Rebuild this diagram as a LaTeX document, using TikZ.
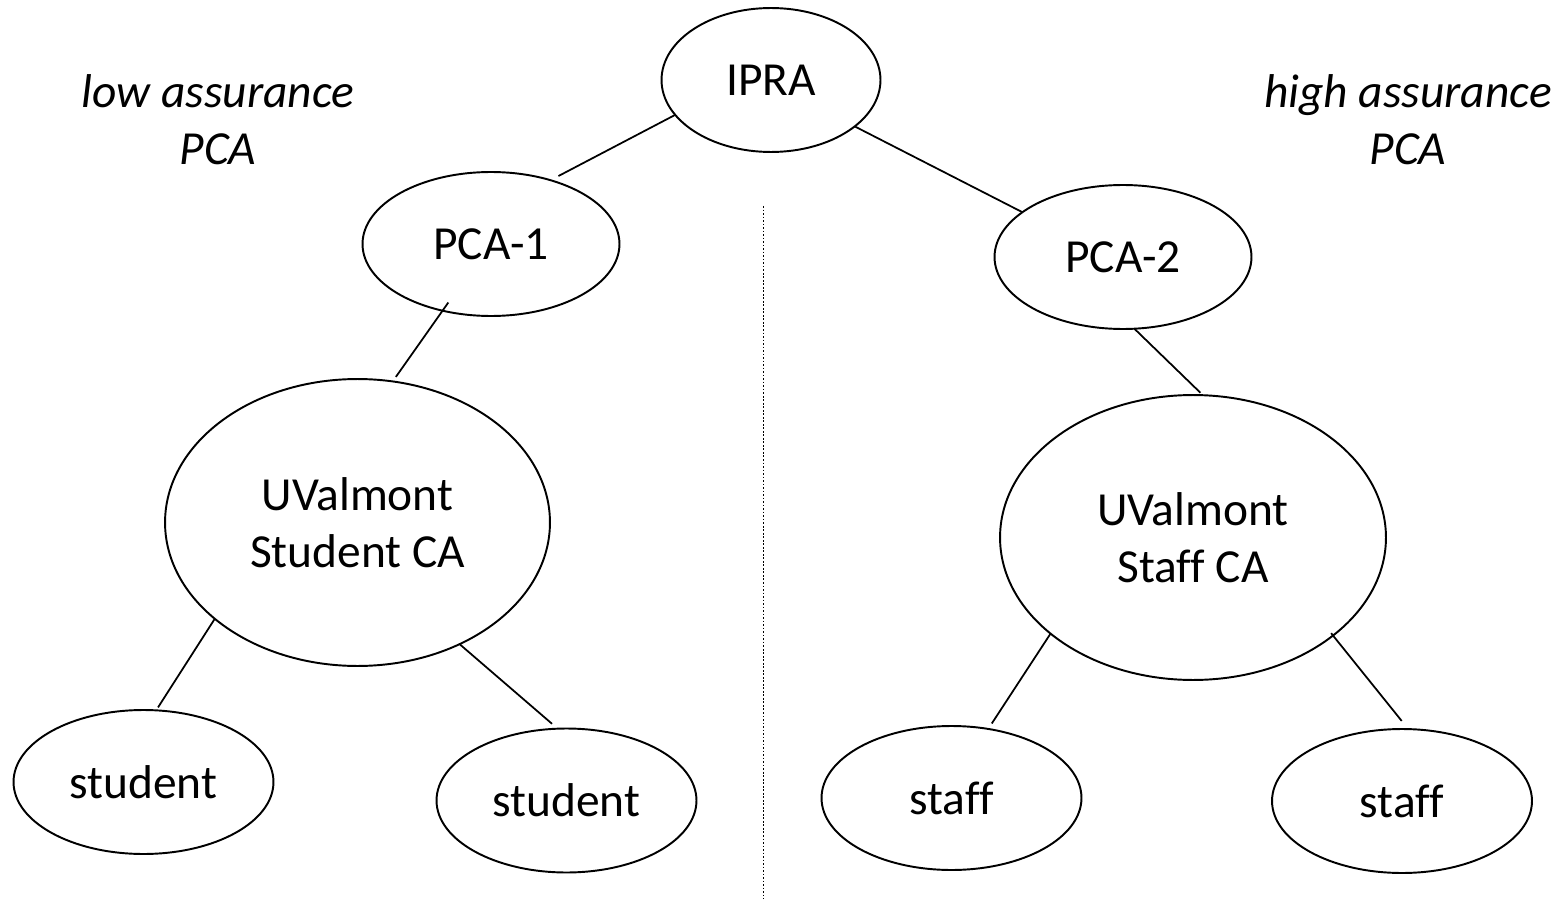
\documentclass[tikz,border=0pt]{standalone}
\usepackage{fontspec}
\setmainfont{Carlito}[Ligatures=NoCommon]
\usetikzlibrary{shapes.geometric}

\tikzstyle{ca} = [ellipse,draw,line width=1.1pt,inner sep=0pt,outer sep=0pt,align=center,font=\fontsize{27}{32.5}\selectfont]
\tikzstyle{leaf} = [ca,minimum width=5.2cm,minimum height=2.88cm]
\tikzstyle{note} = [align=center,font=\fontsize{27}{32.5}\selectfont\itshape]
\tikzstyle{link} = [line width=1pt]
\tikzstyle{divider} = [line width=1pt,densely dotted]

\begin{document}
\begin{tikzpicture}[x=0.02cm,y=-0.02cm]
	\useasboundingbox (0,0) rectangle (1562,902);

	\node[ca,minimum width=4.38cm,minimum height=2.88cm] (ipra) at (771,80) {IPRA};
	\node[ca,minimum width=5.14cm,minimum height=2.88cm] (pca1) at (491,244) {PCA-1};
	\node[ca,minimum width=5.14cm,minimum height=2.88cm] (pca2) at (1123,257) {PCA-2};
	\node[ca,minimum width=7.7cm,minimum height=5.74cm] (ca1) at (357.5,522.5) {UValmont\\Student CA};
	\node[ca,minimum width=7.72cm,minimum height=5.7cm] (ca2) at (1193,537.5) {UValmont\\Staff CA};
	\node[leaf] (s1) at (143.5,782) {student};
	\node[leaf] (s2) at (566.5,800.5) {student};
	\node[leaf] (f1) at (951.5,798) {staff};
	\node[leaf] (f2) at (1402,801) {staff};

	\node[note] (low) at (218,120) {low assurance\\PCA};
	\node[note] (high) at (1408,120) {high assurance\\PCA};

	\draw[link,shorten >=0.18cm] (ipra.200) -- (pca1.47);
	\draw[link] (ipra.331) -- (pca2.156);

	\draw[link,shorten <=-0.2cm,shorten >=0.11cm] (pca1.234) -- (ca1.76);
	\draw[link,shorten >=0.07cm] (pca2.279) -- (ca2.86);

	\draw[link,shorten >=0.07cm] (ca1.214) -- (s1.80);
	\draw[link,shorten >=0.15cm] (ca1.310) -- (s2.97);

	\draw[link,shorten >=0.13cm] (ca2.214) -- (f1.62);
	\draw[link,shorten <=-0.06cm,shorten >=0.21cm] (ca2.325) -- (f2.85);

	\coordinate (d1) at (763.5,206);
	\coordinate (d2) at (763.5,899);
	\draw[divider] (d1) -- (d2);
\end{tikzpicture}
\end{document}
